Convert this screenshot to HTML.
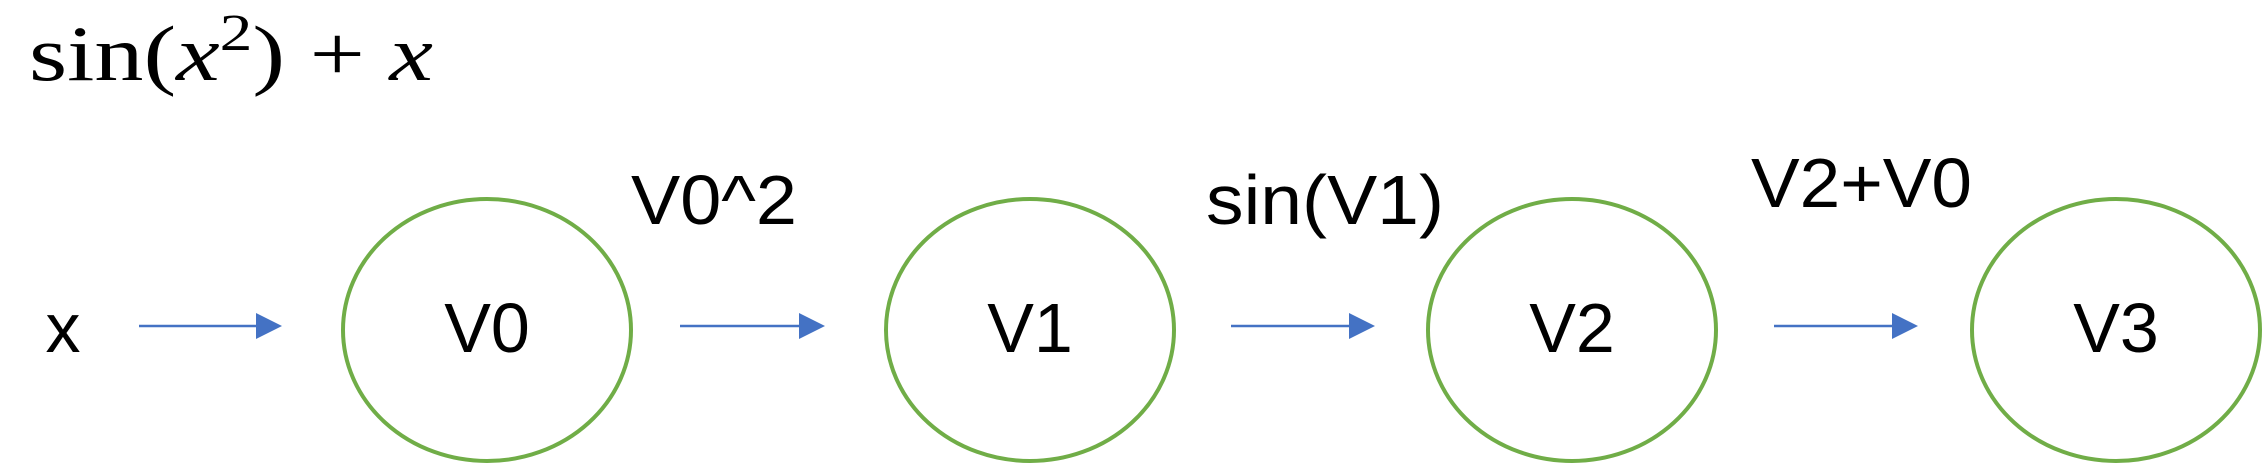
<!DOCTYPE html>
<html><head><meta charset="utf-8"><style>html,body{margin:0;padding:0;background:#fff}svg{display:block}</style></head>
<body>
<svg width="2265" height="465" viewBox="0 0 2265 465" xmlns="http://www.w3.org/2000/svg">
<g font-family="Liberation Serif, serif" font-size="78" fill="#000">
<text x="29" y="80" textLength="404" lengthAdjust="spacingAndGlyphs">sin(<tspan font-style="italic">x</tspan><tspan dy="-30" font-size="52">2</tspan><tspan dy="30">) + </tspan><tspan font-style="italic">x</tspan></text>
</g>
<g fill="none" stroke="#70AD47" stroke-width="4">
<ellipse cx="487" cy="330" rx="144" ry="131"/>
<ellipse cx="1030" cy="330" rx="144" ry="131"/>
<ellipse cx="1572" cy="330" rx="144" ry="131"/>
<ellipse cx="2116" cy="330" rx="144" ry="131"/>
</g>
<g stroke="#4472C4" stroke-width="2.5">
<line x1="139" y1="326" x2="260" y2="326"/>
<line x1="680" y1="326" x2="803" y2="326"/>
<line x1="1231" y1="326" x2="1353" y2="326"/>
<line x1="1774" y1="326" x2="1896" y2="326"/>
</g>
<g fill="#4472C4">
<polygon points="256,313 282,326 256,339"/>
<polygon points="799,313 825,326 799,339"/>
<polygon points="1349,313 1375,326 1349,339"/>
<polygon points="1892,313 1918,326 1892,339"/>
</g>
<g font-family="Liberation Sans, sans-serif" font-size="70" fill="#000">
<text x="63" y="352" text-anchor="middle">x</text>
<text x="487" y="352" text-anchor="middle">V0</text>
<text x="1030" y="352" text-anchor="middle">V1</text>
<text x="1572" y="352" text-anchor="middle">V2</text>
<text x="2116" y="352" text-anchor="middle">V3</text>
<text x="631" y="224" textLength="166" lengthAdjust="spacingAndGlyphs">V0^2</text>
<text x="1206" y="224" textLength="238" lengthAdjust="spacingAndGlyphs">sin(V1)</text>
<text x="1751" y="207" textLength="221" lengthAdjust="spacingAndGlyphs">V2+V0</text>
</g>
</svg>
</body></html>
